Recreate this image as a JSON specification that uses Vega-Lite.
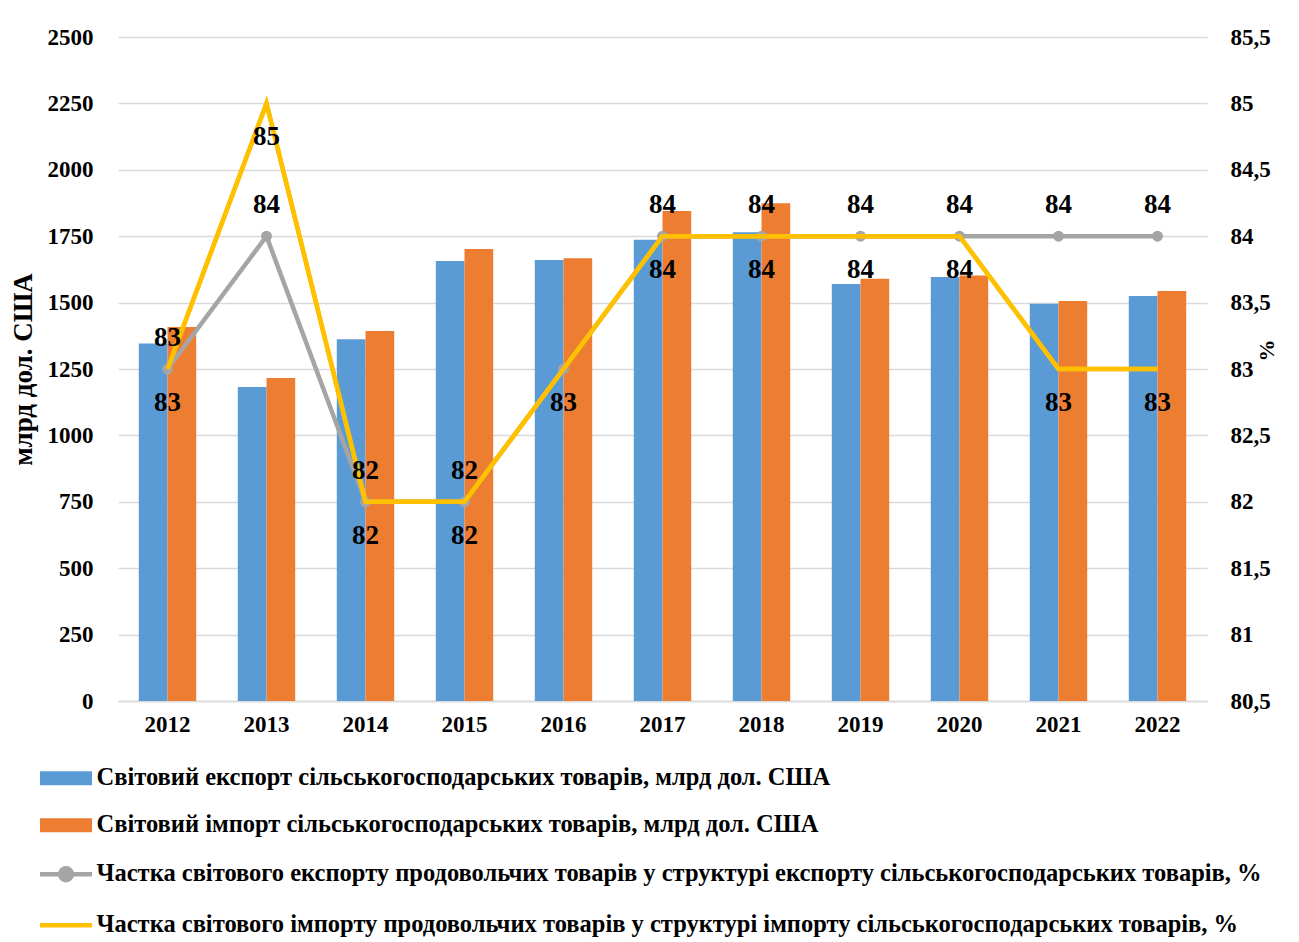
{
  "$schema": "https://vega.github.io/schema/vega-lite/v6.json",
  "width": 1089,
  "height": 664,
  "autosize": "none",
  "padding": {"left": 118, "top": 37, "right": 92, "bottom": 241},
  "background": "white",
  "config": {
    "view": {"stroke": null},
    "font": "Liberation Serif",
    "axis": {
      "labelFont": "Liberation Serif",
      "labelFontWeight": "bold",
      "labelFontSize": 23,
      "labelColor": "black",
      "titleFont": "Liberation Serif",
      "titleFontWeight": "bold",
      "titleFontSize": 27,
      "titleColor": "black",
      "gridColor": "#d9d9d9",
      "gridWidth": 1.3
    }
  },
  "datasets": {
    "bars": [
      {"year": "2012", "series": "exp", "value": 1346}, {"year": "2012", "series": "imp", "value": 1408},
      {"year": "2013", "series": "exp", "value": 1182}, {"year": "2013", "series": "imp", "value": 1216},
      {"year": "2014", "series": "exp", "value": 1362}, {"year": "2014", "series": "imp", "value": 1393},
      {"year": "2015", "series": "exp", "value": 1657}, {"year": "2015", "series": "imp", "value": 1702},
      {"year": "2016", "series": "exp", "value": 1660}, {"year": "2016", "series": "imp", "value": 1667},
      {"year": "2017", "series": "exp", "value": 1737}, {"year": "2017", "series": "imp", "value": 1845},
      {"year": "2018", "series": "exp", "value": 1765}, {"year": "2018", "series": "imp", "value": 1874},
      {"year": "2019", "series": "exp", "value": 1570}, {"year": "2019", "series": "imp", "value": 1590},
      {"year": "2020", "series": "exp", "value": 1596}, {"year": "2020", "series": "imp", "value": 1602},
      {"year": "2021", "series": "exp", "value": 1496}, {"year": "2021", "series": "imp", "value": 1506},
      {"year": "2022", "series": "exp", "value": 1525}, {"year": "2022", "series": "imp", "value": 1544}
    ],
    "lines": [
      {"year": "2012", "series": "sexp", "value": 83}, {"year": "2013", "series": "sexp", "value": 84},
      {"year": "2014", "series": "sexp", "value": 82}, {"year": "2015", "series": "sexp", "value": 82},
      {"year": "2016", "series": "sexp", "value": 83}, {"year": "2017", "series": "sexp", "value": 84},
      {"year": "2018", "series": "sexp", "value": 84}, {"year": "2019", "series": "sexp", "value": 84},
      {"year": "2020", "series": "sexp", "value": 84}, {"year": "2021", "series": "sexp", "value": 84},
      {"year": "2022", "series": "sexp", "value": 84},
      {"year": "2012", "series": "simp", "value": 83}, {"year": "2013", "series": "simp", "value": 85},
      {"year": "2014", "series": "simp", "value": 82}, {"year": "2015", "series": "simp", "value": 82},
      {"year": "2016", "series": "simp", "value": 83}, {"year": "2017", "series": "simp", "value": 84},
      {"year": "2018", "series": "simp", "value": 84}, {"year": "2019", "series": "simp", "value": 84},
      {"year": "2020", "series": "simp", "value": 84}, {"year": "2021", "series": "simp", "value": 83},
      {"year": "2022", "series": "simp", "value": 83}
    ]
  },
  "layer": [
    {
      "data": {"name": "bars"},
      "mark": {"type": "bar"},
      "encoding": {
        "x": {
          "field": "year", "type": "nominal",
          "scale": {"paddingInner": 0.42, "paddingOuter": 0.21},
          "axis": {"title": null, "labelAngle": 0, "ticks": false, "domain": true, "domainColor": "#d9d9d9", "domainWidth": 1.3, "labelPadding": 12}
        },
        "xOffset": {"field": "series", "type": "nominal", "scale": {"domain": ["exp", "imp"], "paddingInner": 0, "paddingOuter": 0}},
        "y": {
          "field": "value", "type": "quantitative",
          "scale": {"domain": [0, 2500], "nice": false},
          "axis": {
            "values": [0, 250, 500, 750, 1000, 1250, 1500, 1750, 2000, 2250, 2500],
            "format": "d",
            "grid": true, "ticks": false, "domain": false, "labelPadding": 25,
            "title": "млрд дол. США", "titlePadding": 10
          }
        },
        "color": {
          "field": "series", "type": "nominal",
          "scale": {"domain": ["exp", "imp", "sexp", "simp"], "range": ["#5B9BD5", "#ED7D31", "#A5A5A5", "#FFC000"]},
          "legend": {
            "orient": "none", "legendX": -78, "legendY": 729, "direction": "vertical", "title": null,
            "padding": 0,
            "labelFont": "Liberation Serif", "labelFontWeight": "bold", "labelFontSize": 24.5, "labelColor": "black",
            "labelLimit": 0, "labelOffset": 32, "symbolSize": 2704, "rowPadding": 22,
            "labelExpr": "datum.value == 'exp' ? 'Світовий експорт сільськогосподарських товарів, млрд дол. США' : datum.value == 'imp' ? 'Світовий імпорт сільськогосподарських товарів, млрд дол. США' : datum.value == 'sexp' ? 'Частка світового експорту продовольчих товарів у структурі експорту сільськогосподарських товарів, %' : 'Частка світового імпорту продовольчих товарів у структурі імпорту сільськогосподарських товарів, %'",
            "encode": {
              "symbols": {
                "update": {
                  "x": {"value": 26},
                  "size": {"value": 2704},
                  "shape": {"signal": "(datum.value == 'exp' || datum.value == 'imp') ? 'M-1,-0.27H1V0.27H-1Z' : datum.value == 'sexp' ? 'M-1,0H1M0.23,0A0.23,0.23,0,1,1,-0.23,0A0.23,0.23,0,1,1,0.23,0Z' : 'M-1,0H1'"},
                  "fill": {"signal": "datum.value == 'exp' ? '#5B9BD5' : datum.value == 'imp' ? '#ED7D31' : datum.value == 'sexp' ? '#A5A5A5' : 'transparent'"},
                  "stroke": {"signal": "datum.value == 'exp' ? '#5B9BD5' : datum.value == 'imp' ? '#ED7D31' : datum.value == 'sexp' ? '#A5A5A5' : '#FFC000'"},
                  "strokeWidth": {"signal": "(datum.value == 'exp' || datum.value == 'imp') ? 0 : 4.5"},
                  "opacity": {"value": 1},
                  "fillOpacity": {"value": 1},
                  "strokeOpacity": {"value": 1}
                }
              }
            }
          }
        }
      }
    },
    {
      "data": {"name": "lines"},
      "encoding": {
        "x": {"field": "year", "type": "nominal"},
        "y": {
          "field": "value", "type": "quantitative",
          "scale": {"domain": [80.5, 85.5], "nice": false, "zero": false},
          "axis": {
            "orient": "right",
            "values": [80.5, 81, 81.5, 82, 82.5, 83, 83.5, 84, 84.5, 85, 85.5],
            "labelExpr": "replace(format(datum.value, '.1~f'), '.', ',')",
            "grid": false, "ticks": false, "domain": false, "labelPadding": 23,
            "title": "%", "titleFontSize": 22, "titleAngle": 270, "titleX": 71, "titleY": 313
          }
        }
      },
      "layer": [
        {
          "mark": {"type": "line", "strokeWidth": 4.5},
          "encoding": {"color": {"field": "series", "type": "nominal"}}
        },
        {
          "transform": [{"filter": "datum.series == 'sexp'"}],
          "mark": {"type": "point", "filled": true, "size": 120, "opacity": 1},
          "encoding": {"color": {"field": "series", "type": "nominal"}}
        },
        {
          "transform": [{"filter": "datum.series == 'simp'"}],
          "mark": {"type": "line", "strokeWidth": 4.5, "color": "#FFC000"}
        },
        {
          "transform": [{"filter": "datum.series == 'sexp' && datum.year != '2016'"}],
          "mark": {"type": "text", "dy": -31, "font": "Liberation Serif", "fontWeight": "bold", "fontSize": 27, "color": "black"},
          "encoding": {"text": {"field": "value", "type": "quantitative", "format": "d"}}
        },
        {
          "transform": [{"filter": "datum.series == 'simp'"}],
          "mark": {"type": "text", "dy": 34, "font": "Liberation Serif", "fontWeight": "bold", "fontSize": 27, "color": "black"},
          "encoding": {"text": {"field": "value", "type": "quantitative", "format": "d"}}
        }
      ]
    }
  ],
  "resolve": {"scale": {"y": "independent"}}
}
